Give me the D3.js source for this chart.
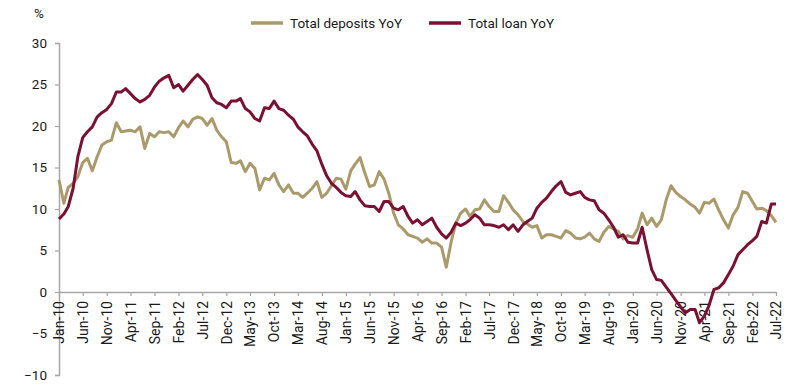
<!DOCTYPE html>
<html><head><meta charset="utf-8">
<script src="https://cdn.jsdelivr.net/npm/d3@7"></script>
<style>
html,body{margin:0;padding:0;background:#fff;}
text{font-family:Roboto,"Noto Sans",sans-serif;fill:#1a1a1a;}
</style></head>
<body><svg id="c" width="800" height="388"></svg>
<script>
const seriesNames = ["Total deposits YoY", "Total loan YoY"];
const seriesColors = ["#aa9a6b", "#7a1133"];
const tickLabels = ["Jan-10","Jun-10","Nov-10","Apr-11","Sep-11","Feb-12","Jul-12","Dec-12","May-13","Oct-13","Mar-14","Aug-14","Jan-15","Jun-15","Nov-15","Apr-16","Sep-16","Feb-17","Jul-17","Dec-17","May-18","Oct-18","Mar-19","Aug-19","Jan-20","Jun-20","Nov-20","Apr-21","Sep-21","Feb-22","Jul-22"];
const yTicks = [-10,-5,0,5,10,15,20,25,30];
const deposits = [
13.5,10.7,12.6,13.1,13.9,15.6,16.1,14.6,16.3,17.7,
18.1,18.3,20.4,19.3,19.4,19.5,19.3,19.9,17.3,19.1,
18.7,19.3,19.2,19.3,18.7,19.8,20.6,19.9,20.8,21.1,
20.9,20.1,20.9,19.5,18.7,18.1,15.6,15.5,15.8,14.5,
15.5,14.9,12.3,13.7,13.5,14.3,12.9,12.1,12.9,11.9,
11.9,11.4,11.9,12.5,13.3,11.4,11.9,12.8,13.7,13.6,
12.4,14.6,15.4,16.2,14.4,12.7,12.9,14.5,13.6,11.9,
9.5,8.1,7.6,6.9,6.7,6.5,6.0,6.4,5.9,5.9,
5.4,3.0,6.0,8.3,9.5,10.0,9.1,9.9,10.0,11.1,
10.3,9.7,9.7,11.6,10.8,9.9,9.3,8.5,8.2,7.8,
8.0,6.5,6.9,6.9,6.7,6.5,7.4,7.1,6.5,6.4,
6.6,7.1,6.4,6.1,7.2,7.9,7.6,7.3,6.4,6.8,
6.6,7.6,9.5,8.1,8.9,7.9,8.7,11.1,12.8,12.0,
11.5,11.1,10.6,10.2,9.5,10.8,10.7,11.2,9.9,8.7,
7.7,9.3,10.2,12.1,11.9,10.9,10.0,10.1,9.8,9.2,
8.4];
const loans = [
8.8,9.4,10.3,12.5,16.3,18.6,19.3,19.9,21.1,21.6,
22.0,22.7,24.1,24.1,24.5,23.9,23.3,22.9,23.2,23.7,
24.7,25.4,25.8,26.1,24.6,25.0,24.2,24.9,25.6,26.2,
25.6,24.9,23.4,22.8,22.6,22.2,23.0,23.0,23.3,22.1,
21.7,20.9,20.6,22.2,22.1,23.0,22.1,21.9,21.3,20.8,
19.9,19.3,18.8,17.8,17.0,15.4,14.0,13.1,12.6,12.0,
11.6,11.5,12.1,11.1,10.4,10.3,10.3,9.7,10.9,10.9,
10.1,9.9,10.3,9.1,8.3,8.7,8.1,8.5,8.9,7.8,
7.0,6.5,7.2,8.3,8.0,8.3,8.7,9.3,8.9,8.1,
8.1,8.0,7.8,8.1,7.5,8.1,7.3,8.1,8.5,8.9,
10.1,10.8,11.3,12.1,12.8,13.3,12.0,11.7,11.9,12.1,
11.4,11.1,11.0,9.9,9.5,8.7,7.8,6.6,6.9,6.0,
5.9,5.9,7.8,5.1,2.7,1.5,1.4,0.6,-0.2,-1.0,
-1.8,-2.5,-2.1,-2.1,-3.7,-2.9,-1.6,0.3,0.5,1.1,
2.1,3.1,4.5,5.1,5.7,6.2,6.7,8.5,8.3,10.6,
10.6];

const months = d3.timeMonth.range(new Date(2010,0,1), new Date(2022,7,1));
const parse = d3.timeParse("%b-%y");
const fmt = d3.timeFormat("%b-%y");

const svg = d3.select("#c");
const x = d3.scaleTime().domain([months[0], months[months.length-1]]).range([59, 776]);
const y = d3.scaleLinear().domain([-10, 30]).range([375, 43]);

// Y axis
const yAxis = svg.append("g").attr("transform","translate(59,0)")
  .call(d3.axisLeft(y).tickValues(yTicks).tickSize(4).tickPadding(8));
yAxis.select(".domain").attr("stroke","#a6a6a6").attr("stroke-width",1.5);
yAxis.selectAll(".tick line").attr("stroke","#a6a6a6").attr("stroke-width",1.2);
yAxis.selectAll("text").style("font-size","13.5px").attr("fill","#1a1a1a");

// X axis at zero
const xAxis = svg.append("g").attr("transform",`translate(0,${y(0)})`)
  .call(d3.axisBottom(x).tickValues(tickLabels.map(parse)).tickFormat(fmt).tickSize(4).tickSizeOuter(0));
xAxis.select(".domain").attr("stroke","#a6a6a6").attr("stroke-width",1.5);
xAxis.selectAll(".tick line").attr("stroke","#a6a6a6").attr("stroke-width",1.2);
xAxis.selectAll("text")
  .style("font-size","14px").attr("fill","#1a1a1a")
  .attr("text-anchor","end")
  .attr("transform","rotate(-90)")
  .attr("x",-9).attr("y",0).attr("dy","0.35em");

// Lines
const line = d3.line().x((d,i)=>x(months[i])).y(d=>y(d)).curve(d3.curveLinear);
[deposits, loans].forEach((s,k)=>{
  svg.append("path").datum(s).attr("fill","none")
    .attr("stroke",seriesColors[k]).attr("stroke-width",3)
    .attr("stroke-linejoin","round").attr("d",line);
});

// Unit label
svg.append("text").attr("x",34).attr("y",18).text("%").style("font-size","13.5px");

// Legend
const legX = [251, 429];
seriesNames.forEach((n,k)=>{
  svg.append("line").attr("x1",legX[k]).attr("x2",legX[k]+32).attr("y1",23).attr("y2",23)
    .attr("stroke",seriesColors[k]).attr("stroke-width",3.5);
  svg.append("text").attr("x",legX[k]+39).attr("y",28).text(n).style("font-size","13.5px");
});
</script></body></html>
